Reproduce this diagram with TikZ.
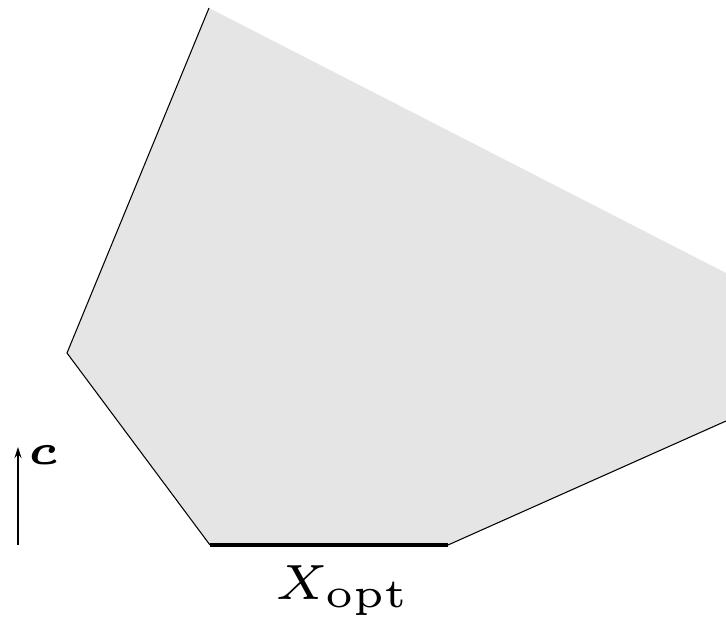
\documentclass[tikz,border=0pt]{standalone}
\usepackage{amsmath,amssymb}
\usetikzlibrary{arrows.meta}
\definecolor{region}{HTML}{E5E5E5}

\begin{document}
\begin{tikzpicture}[x=0.02cm, y=-0.02cm]
    \useasboundingbox (0,0) rectangle (726,616);
    % corners of the feasible region
    \coordinate (top) at (209,8);
    \coordinate (left) at (67,353);
    \coordinate (optA) at (210,545);
    \coordinate (optB) at (448,545);
    \coordinate (rlow) at (726,421);
    \coordinate (rtop) at (726,273);
    \fill[region] (top) -- (left) -- (optA) -- (optB) -- (rlow) -- (rtop) -- cycle;
    \draw[line width=0.6pt] (top) -- (left) -- (optA);
    \draw[line width=0.6pt] (optB) -- (rlow);
    \draw[line width=2.8pt] (optA) -- (optB);
    % cost direction
    \coordinate (cfoot) at (18,545);
    \coordinate (chead) at (18,447);
    \draw[line width=0.6pt, -{Stealth[length=2.2mm, width=1.4mm]}] (cfoot) -- (chead);
    \node[inner sep=0pt, scale=4.8] (clabel) at (43,455) {\tiny$\boldsymbol{c}$};
    \node[inner sep=0pt, scale=4.7, anchor=base] (xopt) at (343,599) {\fontsize{6}{7}\selectfont$X_{\mathrm{opt}}$};
\end{tikzpicture}
\end{document}
